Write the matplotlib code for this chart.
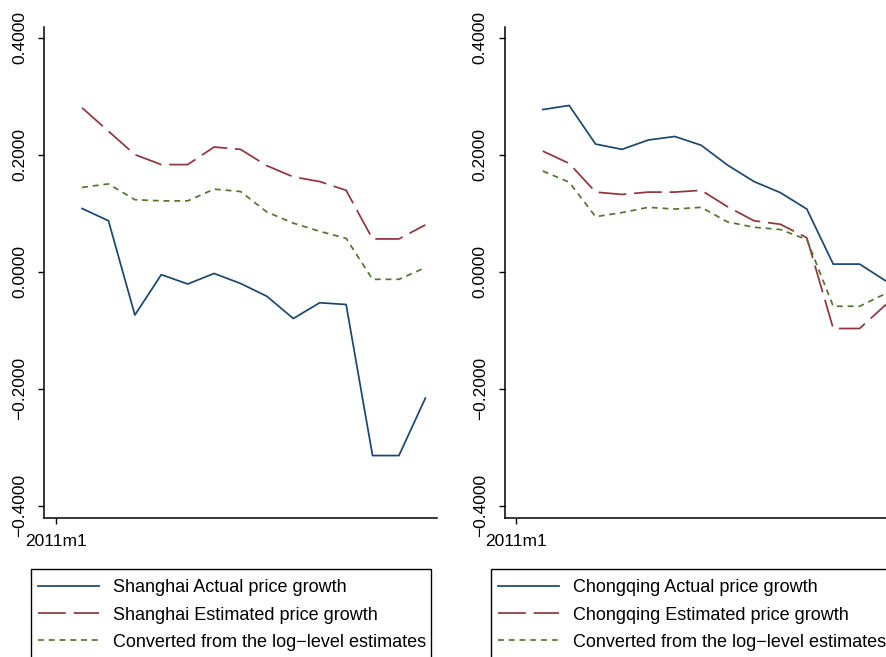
import numpy as np
import matplotlib
matplotlib.use("Agg")
import matplotlib.pyplot as plt
from matplotlib.lines import Line2D
from matplotlib.patches import Rectangle

plt.rcParams['font.family'] = ['Liberation Sans', 'DejaVu Sans']
plt.rcParams['axes.unicode_minus'] = True

# monthly periods, 0 = 2011m1
periods = [1, 2, 3, 4, 5, 6, 7, 8, 9, 10, 11, 12, 13, 14]
tick_pos = [0]
tick_lab = ['2011m1']
yticks = [-0.4, -0.2, 0.0, 0.2, 0.4]

sh_actual = [0.108, 0.087, -0.074, -0.005, -0.021, -0.003, -0.020, -0.042,
             -0.080, -0.053, -0.056, -0.314, -0.314, -0.216]
sh_est = [0.280, 0.240, 0.200, 0.183, 0.183, 0.213, 0.209, 0.181,
          0.162, 0.154, 0.139, 0.056, 0.056, 0.080]
sh_conv = [0.144, 0.150, 0.123, 0.121, 0.121, 0.141, 0.137, 0.102,
           0.083, 0.069, 0.057, -0.013, -0.013, 0.007]

cq_actual = [0.277, 0.284, 0.218, 0.209, 0.225, 0.231, 0.216, 0.182,
             0.154, 0.135, 0.107, 0.013, 0.013, -0.016]
cq_est = [0.206, 0.185, 0.136, 0.132, 0.136, 0.136, 0.139, 0.111,
          0.087, 0.081, 0.058, -0.097, -0.097, -0.056]
cq_conv = [0.172, 0.153, 0.094, 0.101, 0.110, 0.107, 0.110, 0.085,
           0.076, 0.072, 0.055, -0.059, -0.059, -0.037]

navy = '#1a476f'
maroon = '#90353b'
green = '#55752f'
longdash = (0, (16, 4.5))
shortdash = (0, (3.4, 2.8))

W, H = 886, 657
fig = plt.figure(figsize=(W / 100, H / 100), dpi=100)
fig.patch.set_facecolor('white')


def fmt(v):
    return ('%.4f' % v).replace('-', '\u2212')


def panel(left, actual, est, conv, city, box_left, box_right):
    ax = fig.add_axes([left / W, (H - 517.6) / H, 392.4 / W, 490.6 / H])
    ax.plot(periods, actual, color=navy, lw=1.25)
    ax.plot(periods, est, color=maroon, lw=1.25, linestyle=longdash)
    ax.plot(periods, conv, color=green, lw=1.25, linestyle=shortdash)
    ax.set_xlim(-0.43, 14.43)
    ax.set_ylim(-0.42, 0.418)
    ax.spines['top'].set_visible(False)
    ax.spines['right'].set_visible(False)
    for s in ['left', 'bottom']:
        ax.spines[s].set_linewidth(1.1)
    ax.set_xticks(tick_pos)
    ax.set_xticklabels(tick_lab)
    ax.set_yticks(yticks)
    ax.set_yticklabels([fmt(v) for v in yticks], rotation=90, va='center')
    ax.tick_params(axis='both', labelsize=12.5, length=4.5, width=1.0,
                   direction='out')
    ax.tick_params(axis='y', pad=8)
    ax.tick_params(axis='x', pad=7)

    # legend box drawn on its own, it runs past the bottom edge
    fig.add_artist(Rectangle((box_left / W, -20 / H), (box_right - box_left) / W,
                             (H - 569 + 20) / H, transform=fig.transFigure,
                             facecolor='none', edgecolor='black', lw=1.0))

    handles = [Line2D([], [], color=navy, lw=1.25),
               Line2D([], [], color=maroon, lw=1.25, linestyle=longdash),
               Line2D([], [], color=green, lw=1.25, linestyle=shortdash)]
    labels = [city + ' Actual price growth',
              city + ' Estimated price growth',
              'Converted from the log\u2212level estimates']
    leg = ax.legend(handles, labels, loc='upper left',
                    bbox_to_anchor=((box_left + 7) / W, 1 - 579.5 / H),
                    bbox_transform=fig.transFigure, borderaxespad=0,
                    fontsize=12.95, frameon=False,
                    handlelength=3.4, handletextpad=0.78,
                    borderpad=0, labelspacing=0.56)
    leg.set_clip_on(False)
    return ax


panel(44.3, sh_actual, sh_est, sh_conv, 'Shanghai', 31, 431)
panel(505, cq_actual, cq_est, cq_conv, 'Chongqing', 491, 900)

fig.savefig('out.png', dpi=100, facecolor='white')
